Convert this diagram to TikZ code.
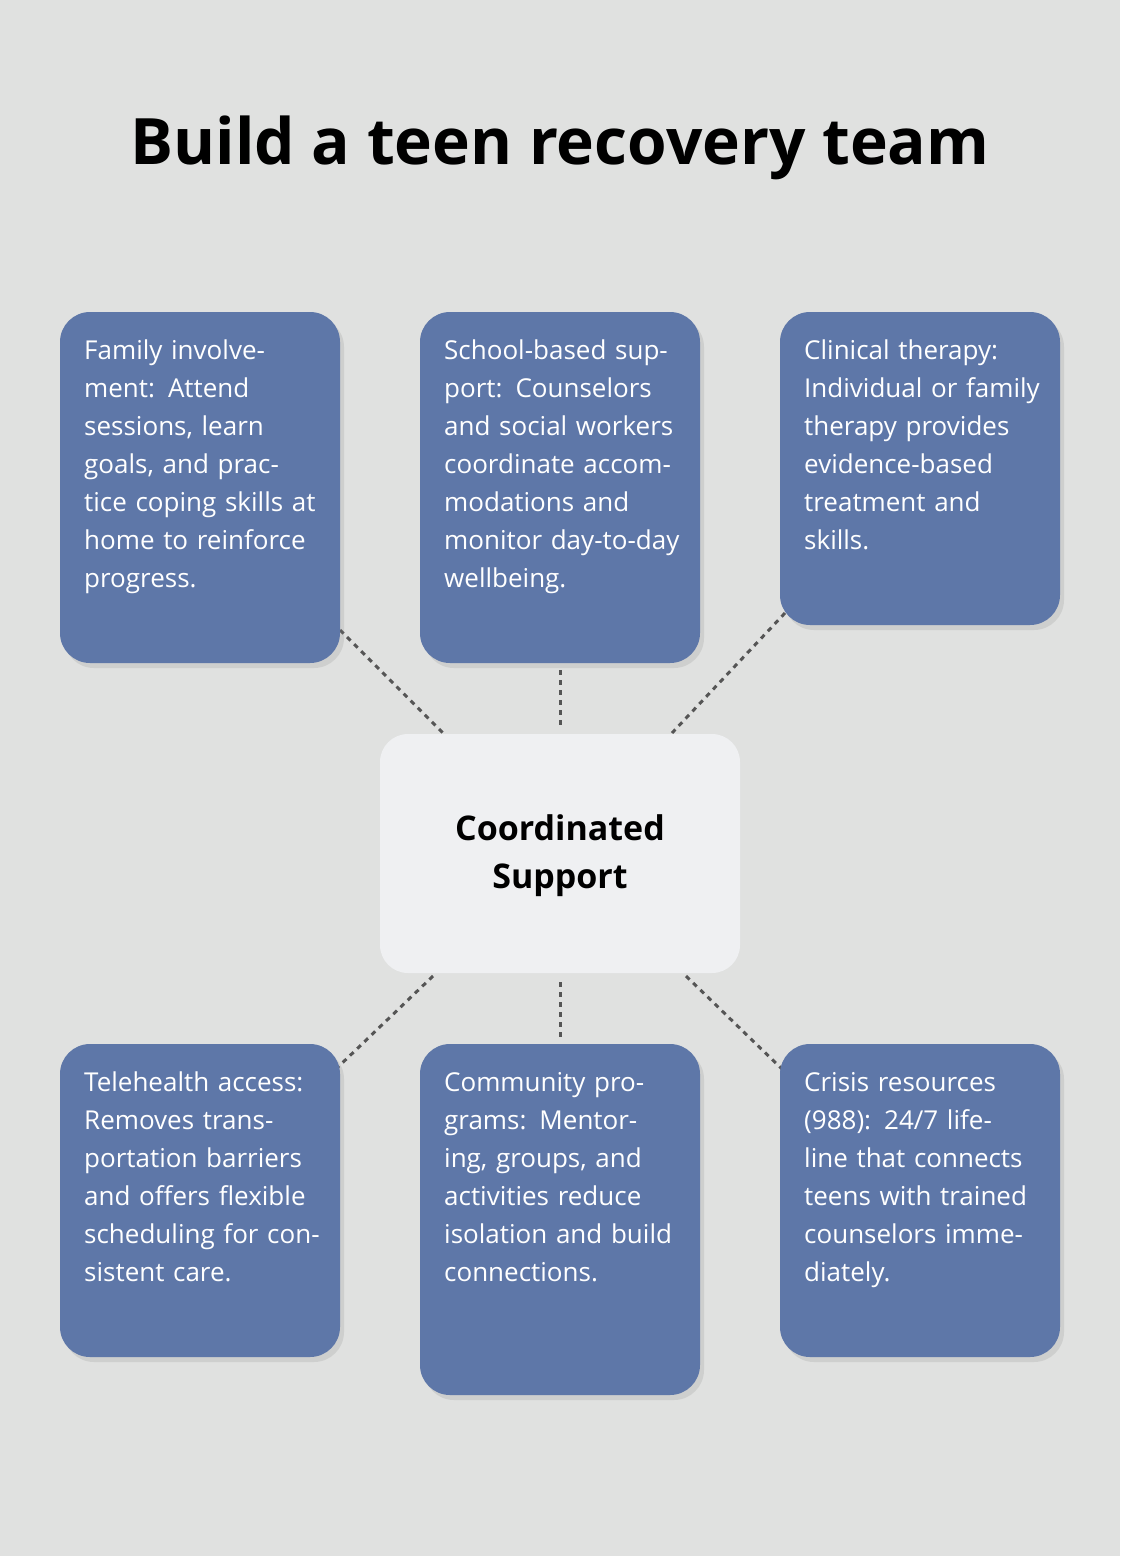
\documentclass[tikz,border=0pt]{standalone}
\usepackage{fontspec}
\setmainfont{Open Sans}
\usetikzlibrary{shadows}
\definecolor{bg}{HTML}{E0E1E0}
\definecolor{boxblue}{HTML}{5E77A8}
\definecolor{centre}{HTML}{EFF0F2}
\definecolor{conn}{HTML}{555555}
\tikzset{
  card/.style={fill=boxblue, rounded corners=30pt, draw=none, drop shadow={opacity=0.18, shadow xshift=4pt, shadow yshift=-5pt}},
  cardtext/.style={anchor=north west, text=white, text width=236pt, align=left, inner sep=0pt, font=\fontsize{26}{38}\selectfont},
  link/.style={draw=conn, line width=3pt, dash pattern=on 5pt off 5pt}
}
\begin{document}
\begin{tikzpicture}[x=1pt,y=-1pt]
\fill[bg] (0,0) rectangle (1120,1556);
\useasboundingbox (0,0) rectangle (1120,1556);
\node[font=\fontsize{64}{70}\selectfont\bfseries] (title) at (560,148) {Build a teen recovery team};
% links
\coordinate (l1a) at (340,630); \coordinate (l1b) at (443,733);
\coordinate (l2a) at (560,670); \coordinate (l2b) at (560,727);
\coordinate (l3a) at (785,613); \coordinate (l3b) at (672,733);
\coordinate (l4a) at (433,976); \coordinate (l4b) at (337,1068);
\coordinate (l5a) at (560,982); \coordinate (l5b) at (560,1040);
\coordinate (l6a) at (686,976); \coordinate (l6b) at (783,1070);
\foreach \i in {1,...,6} {\draw[link] (l\i a) -- (l\i b);}
% cards
\path[card] (60,312) rectangle (340,663);
\path[card] (420,312) rectangle (700,663);
\path[card] (780,312) rectangle (1060,625);
\path[card] (60,1044) rectangle (340,1357);
\path[card] (420,1044) rectangle (700,1395);
\path[card] (780,1044) rectangle (1060,1357);
\path[fill=centre, rounded corners=28pt] (380,734) rectangle (740,973);
\node[font=\fontsize{34}{48}\selectfont\bfseries, align=center] (center) at (560,856) {Coordinated\\Support};
\node[cardtext] (t1) at (84,340) {Family involvement: Attend sessions, learn goals, and practice coping skills at home to reinforce progress.};
\node[cardtext] (t2) at (444,340) {School-based support: Counselors and social workers coordinate accommodations and monitor day-to-day wellbeing.};
\node[cardtext] (t3) at (804,340) {Clinical therapy: Individual or family therapy provides evidence-based treatment and skills.};
\node[cardtext] (t4) at (84,1072) {Telehealth access: Removes transportation barriers and offers flexible scheduling for consistent care.};
\node[cardtext] (t5) at (444,1072) {Community programs: Mentoring, groups, and activities reduce isolation and build connections.};
\node[cardtext] (t6) at (804,1072) {Crisis resources (988): 24/7 lifeline that connects teens with trained counselors immediately.};
\end{tikzpicture}
\end{document}
